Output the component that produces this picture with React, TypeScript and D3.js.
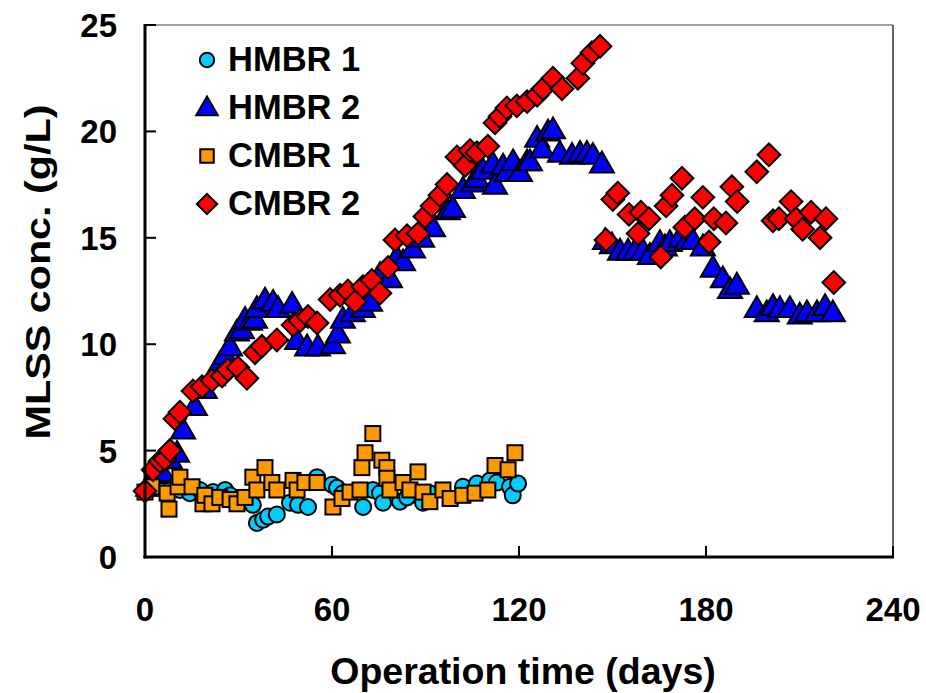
import React from "react";
import * as d3 from "d3";

const W = 926;
const H = 693;

const xTicks = [0, 60, 120, 180, 240];
const yTicks = [0, 5, 10, 15, 20, 25];

const seriesNames = ["HMBR 1", "HMBR 2", "CMBR 1", "CMBR 2"];

// [day, MLSS g/L]
const hmbr1: [number, number][] = [
  [0.6, 3.15], [4.2, 3.25], [8, 3.15], [11.2, 3.15], [14.4, 3.0], [17.6, 3.15], [21.8, 3.05],
  [25.7, 3.15], [27.3, 2.9], [32.1, 2.7], [34.6, 2.45], [35.9, 1.6], [37.9, 1.75], [39.5, 1.9],
  [42.3, 2.0], [46.5, 2.55], [49.1, 2.45], [52.3, 2.35], [55.2, 3.75], [60, 3.4], [61.6, 3.25],
  [63.5, 3.0], [70, 2.35], [73.1, 3.15], [75.4, 3.0], [76.4, 2.55], [81.8, 2.6], [84.1, 2.8],
  [89.2, 2.55], [91.4, 3.0], [102, 3.3], [106.5, 3.45], [110.7, 3.6], [112.9, 3.5],
  [117.1, 3.3], [118, 2.9], [119.7, 3.45],
];

const hmbr2: [number, number][] = [
  [1, 3.2], [3.5, 3.8], [5.5, 3.9], [8, 4.5], [10.3, 4.8], [12.2, 5.9], [16, 7.0], [19.2, 7.8],
  [21.8, 8.4], [24, 9.0], [25.7, 9.4], [27.3, 9.8], [29.5, 10.5], [31.1, 10.6], [32.1, 11.1],
  [33.7, 11.0], [35.3, 11.1], [35.9, 11.6], [38.5, 12.0], [41.1, 11.9], [42.7, 11.6],
  [47.2, 11.8], [48.8, 10.1], [52, 9.8], [55.5, 9.8], [60.3, 9.9], [61.9, 10.4], [63.5, 11.1],
  [66.7, 11.4], [69.9, 11.6], [72.2, 11.9], [75.4, 13.2], [78.6, 13.0], [80.8, 14.0],
  [82.8, 13.8], [86, 14.4], [88.9, 14.9], [92.4, 15.4], [97.2, 16.2], [98.8, 16.3],
  [102, 17.2], [105.2, 17.5], [106.5, 17.7], [108.4, 18.1], [111.6, 18.4], [112.3, 17.4],
  [114.9, 18.3], [116.1, 18.0], [118.1, 18.5], [120.3, 18.0], [122.6, 18.5], [123.5, 18.5],
  [125.8, 19.6], [127.4, 19.1], [129.3, 19.9], [130.9, 20.0], [133.1, 18.9], [137, 18.8],
  [139.6, 18.9], [141.8, 18.9], [143.7, 18.8], [146.6, 18.4],
  [147.6, 14.8], [149.8, 14.6], [152.4, 14.3], [155, 14.3], [157.2, 14.3], [159.8, 14.3],
  [162, 14.1], [165.2, 14.7], [166.8, 14.5], [168.4, 14.7], [171.6, 14.9], [173.9, 14.8],
  [175.8, 14.8], [179, 14.5], [182.2, 13.5], [185.4, 13.0], [187.7, 12.5], [189.9, 12.7],
  [196.3, 11.6], [199.5, 11.4], [201.5, 11.7], [203.7, 11.6], [206.9, 11.6], [210.1, 11.3],
  [212.4, 11.4], [215.6, 11.4], [218.2, 11.7], [220.7, 11.4],
];

const cmbr1: [number, number][] = [
  [0, 3.05], [2.2, 3.3], [7.1, 3.0], [7.7, 2.25], [10.6, 3.3], [11.2, 3.75], [15.1, 3.3],
  [18.6, 2.5], [19.2, 2.9], [21.5, 2.5], [24, 2.8], [27.3, 2.7], [29.5, 2.5], [32.1, 2.8],
  [34.6, 3.75], [35.9, 3.15], [38.5, 4.2], [40.7, 3.5], [42.3, 3.15], [47.5, 3.6],
  [48.8, 3.15], [51.3, 3.5], [55.2, 3.5], [60.3, 2.35], [63.2, 2.75], [65.8, 3.05],
  [69, 3.15], [69.6, 4.2], [70.6, 4.9], [73.1, 5.8], [76, 4.55], [77.6, 4.2], [77.6, 3.7],
  [78.6, 3.15], [82.8, 3.5], [85, 3.15], [87.6, 4.0], [89.2, 3.05], [91.4, 2.6], [95.6, 3.15],
  [97.9, 2.75], [102, 2.9], [105.9, 3.0], [110, 3.15], [112.3, 4.3], [116.5, 4.1], [118.7, 4.9],
];

const cmbr2: [number, number][] = [
  [0, 3.1], [2.6, 4.1], [4.8, 4.5], [6.4, 4.6], [8.0, 5.0], [9.6, 6.5], [11.2, 6.8],
  [15.4, 7.8], [18.3, 8.0], [21.5, 8.3], [24.7, 8.5], [26.6, 8.8], [29.8, 8.9], [32.7, 8.4],
  [35.3, 9.6], [37.5, 9.9], [42.3, 10.2], [47.5, 10.9], [49.7, 11.1], [52.3, 11.3],
  [55.2, 11.0], [59.4, 12.1], [62.6, 12.3], [65.1, 12.5], [67.4, 12.0], [69.9, 12.7],
  [72.8, 13.0], [75.4, 12.4], [78, 13.6], [80.2, 14.9], [84.1, 15.1], [87.6, 15.2],
  [89.8, 16.0], [92.1, 16.5], [94.6, 17.0], [96.9, 17.5], [100.1, 18.8], [102.7, 18.4],
  [104.3, 19.1], [106.5, 19.0], [110, 19.3], [112.3, 20.4], [113.9, 20.7], [116.1, 21.1],
  [119.3, 21.2], [122.6, 21.4], [125.8, 21.7], [127.7, 22.0], [130.9, 22.5], [133.8, 22.0],
  [138.9, 22.5], [140.5, 23.2], [143.4, 23.7], [146, 24.0],
  [147.9, 14.9], [150.1, 16.8], [151.7, 17.1], [155.3, 16.1], [158.2, 15.2], [159.1, 16.2],
  [161.7, 15.9], [165.5, 14.1], [167.2, 16.5], [169.1, 17.0], [172.3, 17.8], [173.2, 15.5],
  [176.4, 15.9], [179, 16.9], [181, 14.8], [182.5, 15.9], [186.4, 15.7], [188.3, 17.4],
  [190, 16.7], [196.3, 18.1], [200.2, 18.9], [201.5, 15.8], [203.4, 15.9], [207.3, 16.7],
  [208.9, 15.9], [211, 15.4], [213.7, 16.2], [216.6, 15.0], [218.5, 15.9], [221, 12.9],
];

const colors = ["#00CCFF", "#0000FF", "#FF9900", "#FF0000"];
const FONT = "'Liberation Sans', Arial, sans-serif";

const left = 145, right = 893, top = 25, bottom = 557;
const x = d3.scaleLinear().domain([0, 240]).range([left, right]);
const y = d3.scaleLinear().domain([0, 25]).range([bottom, top]);

function Marker({ kind, cx, cy, fill, small }: { kind: number; cx: number; cy: number; fill: string; small?: boolean }) {
  const sw = 2;
  const k = small ? 0.9 : 1;
  if (kind === 0) return <circle cx={cx} cy={cy} r={8 * k} fill={fill} stroke="#000" strokeWidth={sw} />;
  if (kind === 1) {
    const p = d3.symbol(d3.symbolTriangle, 250 * k * k)();
    return <path d={p!} transform={`translate(${cx},${cy})`} fill={fill} stroke="#000" strokeWidth={sw} strokeLinejoin="miter" />;
  }
  if (kind === 2) {
    const s = 15 * k;
    return <rect x={cx - s / 2} y={cy - s / 2} width={s} height={s} fill={fill} stroke="#000" strokeWidth={sw} />;
  }
  const s = 16 * k;
  return <rect x={-s / 2} y={-s / 2} width={s} height={s} transform={`translate(${cx},${cy}) rotate(45)`} fill={fill} stroke="#000" strokeWidth={sw} />;
}

export default function App() {
  const data = [hmbr1, hmbr2, cmbr1, cmbr2];
  const legY = [60, 108, 156, 204];
  return (
    <svg width={W} height={H} style={{ position: "absolute", left: 0, top: 0, background: "#fff" }}>
      {/* frame */}
      <line x1={left} x2={right} y1={top} y2={top} stroke="#808080" strokeWidth={1.5} />
      <line x1={right} x2={right} y1={top} y2={bottom} stroke="#333" strokeWidth={1.5} />
      {/* data */}
      {data.map((s, si) => (
        <g key={si}>
          {s.map((d, i) => (
            <Marker key={i} kind={si} cx={x(d[0])} cy={y(d[1])} fill={colors[si]} />
          ))}
        </g>
      ))}
      {/* axes */}
      <line x1={left} x2={left} y1={top - 1} y2={bottom + 1.5} stroke="#000" strokeWidth={3} />
      <line x1={left - 1.5} x2={right + 1} y1={bottom} y2={bottom} stroke="#000" strokeWidth={3} />
      {xTicks.map((t) => (
        <g key={t}>
          <line x1={x(t)} x2={x(t)} y1={bottom} y2={bottom - 11} stroke="#000" strokeWidth={2} />
          <text x={x(t)} y={621} textAnchor="middle" fontFamily={FONT} fontWeight="bold" fontSize={33}>{t}</text>
        </g>
      ))}
      {yTicks.map((t) => (
        <g key={t}>
          <line x1={left} x2={left + 11} y1={y(t)} y2={y(t)} stroke="#000" strokeWidth={2} />
          <text x={117} y={y(t) + 12} textAnchor="end" fontFamily={FONT} fontWeight="bold" fontSize={33}>{t}</text>
        </g>
      ))}
      <text x={523} y={684} textAnchor="middle" fontFamily={FONT} fontWeight="bold" fontSize={37.5}>Operation time (days)</text>
      <text transform="translate(50,272) rotate(-90) scale(1.18,1)" textAnchor="middle" fontFamily={FONT} fontWeight="bold" fontSize={35}>MLSS conc. (g/L)</text>
      {/* legend */}
      {seriesNames.map((n, i) => (
        <g key={n}>
          <Marker kind={i} cx={207} cy={legY[i] + (i === 1 ? 1 : 0)} fill={colors[i]} small />
          <text x={228} y={legY[i] + 11} fontFamily={FONT} fontWeight="bold" fontSize={34.5}>{n}</text>
        </g>
      ))}
    </svg>
  );
}
